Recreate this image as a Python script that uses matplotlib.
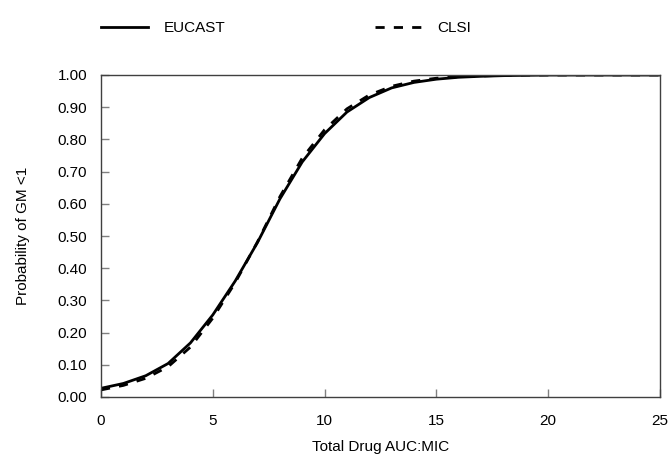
import numpy as np
import matplotlib
matplotlib.use("Agg")
import matplotlib.pyplot as plt

plt.rcParams['font.family'] = ['Liberation Sans', 'DejaVu Sans']
plt.rcParams['font.size'] = 11

# values
auc_mic = list(range(0, 26))
eucast = [0.027, 0.042, 0.066, 0.104, 0.168, 0.255, 0.360, 0.480, 0.615, 0.730,
          0.818, 0.885, 0.930, 0.960, 0.977, 0.987, 0.993, 0.996, 0.998, 0.999,
          1.0, 1.0, 1.0, 1.0, 1.0, 1.0]
clsi = [0.022, 0.036, 0.058, 0.094, 0.155, 0.245, 0.355, 0.482, 0.622, 0.742,
        0.830, 0.895, 0.938, 0.965, 0.981, 0.990, 0.995, 0.997, 0.999, 1.0,
        1.0, 1.0, 1.0, 1.0, 1.0, 1.0]

W, H = 669, 454
fig = plt.figure(figsize=(W / 100, H / 100), dpi=100)
ax = fig.add_axes([101 / W, 1 - 397 / H, 559 / W, 322 / H])

ax.plot(auc_mic, eucast, color='black', lw=2.0, label='EUCAST')
ax.plot(auc_mic, clsi, color='black', lw=2.0, dashes=(3.3, 3.3), label='CLSI')

ax.set_xlim(0, 25)
ax.set_ylim(0, 1.0)
ax.set_xticks(np.arange(0, 26, 5))
yt = np.arange(0, 1.01, 0.1)
ax.set_yticks(yt)
ax.set_yticklabels([f"{v:.2f}" for v in yt])
ax.tick_params(direction='in', length=6, width=1, color='#808080')
ax.tick_params(axis='y', pad=10)
ax.tick_params(axis='x', pad=12)
for s in ax.spines.values():
    s.set_color('#404040')
    s.set_linewidth(1)

ax.set_xlabel('Total Drug AUC:MIC', va='top')
ax.xaxis.set_label_coords(0.5, (397 - 440) / 322)
ax.set_ylabel('Probability of GM <1')
ax.yaxis.set_label_coords((30 - 101) / 559, 0.5)

fig.legend(loc='center left', bbox_to_anchor=(87 / W, 1 - 28 / H), ncol=2,
           frameon=False, handlelength=3.1, handletextpad=1.0,
           columnspacing=9.8, fontsize=11)

fig.savefig('out.png', dpi=100)
